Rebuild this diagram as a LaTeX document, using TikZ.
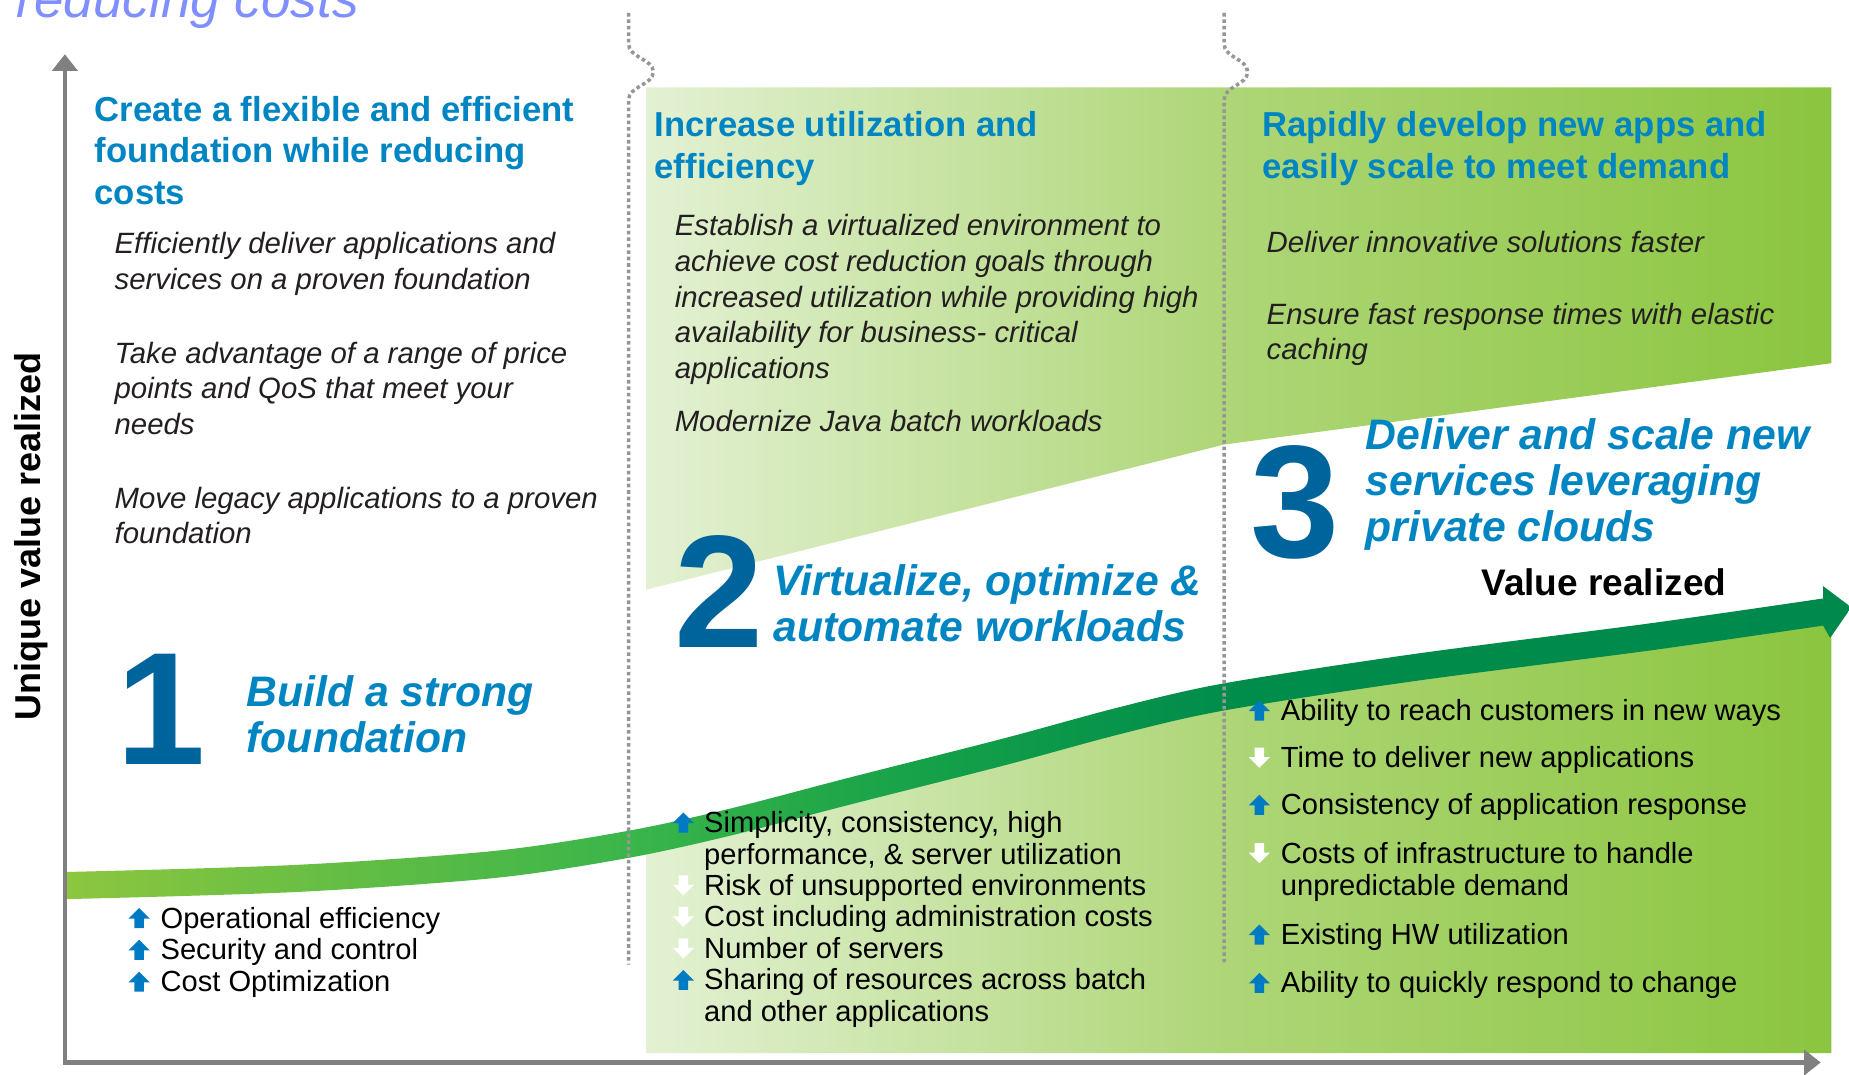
\documentclass[tikz,border=0pt]{standalone}
\usepackage{fontspec}
\setmainfont{Liberation Sans}
\usetikzlibrary{arrows.meta}
\definecolor{hblue}{RGB}{0,133,195}
\definecolor{nblue}{RGB}{0,100,156}
\definecolor{ablue}{RGB}{0,122,194}
\definecolor{ttl}{RGB}{128,143,255}
\definecolor{itx}{RGB}{35,31,32}
\definecolor{axgray}{RGB}{128,128,128}
\definecolor{dotgray}{RGB}{150,150,150}
\definecolor{gA}{RGB}{227,241,211}
\definecolor{gB}{RGB}{174,214,119}
\definecolor{gC}{RGB}{139,197,63}
\definecolor{aA}{RGB}{141,198,63}
\definecolor{aB}{RGB}{58,181,74}
\definecolor{aC}{RGB}{20,160,73}
\definecolor{aD}{RGB}{0,140,75}
\definecolor{aE}{RGB}{0,137,76}
\pgfdeclarehorizontalshading{bgshade}{100bp}{color(0bp)=(gA); color(25bp)=(gA); color(49.4bp)=(gB); color(75bp)=(gC); color(100bp)=(gC)}
\pgfdeclarehorizontalshading{arrshade}{100bp}{color(0bp)=(aA); color(25bp)=(aA); color(40.8bp)=(aB); color(49.5bp)=(aC); color(57.5bp)=(aD); color(75bp)=(aE); color(100bp)=(aE)}
\newcommand\ml[1]{\begin{tabular}[t]{@{}l@{}}#1\end{tabular}}
\tikzset{
  head/.style={font=\fontsize{29.4}{35}\selectfont\bfseries, text=hblue, anchor=base west, inner sep=0pt},
  itxt/.style={font=\fontsize{24.9}{30.2}\selectfont\itshape, text=itx, anchor=base west, inner sep=0pt},
  bignum/.style={font=\fontsize{136}{136}\selectfont\bfseries, text=nblue, anchor=base west, inner sep=0pt},
  subt/.style={font=\fontsize{36.2}{39}\selectfont\bfseries\itshape, text=hblue, anchor=base west, inner sep=0pt},
  btxt/.style={font=\fontsize{24.7}{26.7}\selectfont, text=black, anchor=base west, inner sep=0pt},
  btxtb/.style={font=\fontsize{24.7}{27}\selectfont, text=black, anchor=base west, inner sep=0pt},
  dotsep/.style={draw=dotgray, line width=3pt, dash pattern=on 3pt off 2.5pt},
  axisline/.style={draw=axgray, line width=3.5pt, line join=miter},
  upa/.pic={\fill[ablue] (-4,0) -- (-4,-8) -- (-9,-8) -- (0,-17) -- (9,-8) -- (4,-8) -- (4,0) -- cycle;},
  dna/.pic={\fill[white] (-4,-17) -- (-4,-9) -- (-9,-9) -- (0,0) -- (9,-9) -- (4,-9) -- (4,-17) -- cycle;}
}
\begin{document}
\begin{tikzpicture}[x=1pt,y=-1pt]
\useasboundingbox (0,0) rectangle (1568,911);
\fill[white] (0,0) rectangle (1568,911);

% green background regions
\shade[shading=bgshade]
  (548,74) -- (1553,74) -- (1553,308) -- (1038,377) -- (548,500) -- cycle
  (548,713) -- (620,697) -- (720,671) -- (850,638) -- (950,611) -- (1038,591) -- (1200,566) -- (1400,540) -- (1553,518) -- (1553,893) -- (548,893) -- cycle;

% value arrow
\shade[shading=arrshade]
  plot[smooth] coordinates {(55,739.5) (250,733.5) (420,721.5) (533,704.5) (620,685.5) (720,659.5) (850,626.5) (950,599.5) (1038,579.5) (1200,554.5) (1400,528.5) (1546,507.5)}
  -- (1546,497) -- (1570,515) -- (1552,541)
  -- plot[smooth] coordinates {(1546,530.5) (1400,551.5) (1200,577.5) (1038,602.5) (950,622.5) (850,649.5) (720,682.5) (620,708.5) (533,727.5) (420,744.5) (250,756.5) (55,762.5)}
  -- cycle;

% separators
\draw[dotsep] (533,11) -- (533,37) .. controls (533,49) and (554,50) .. (554,61) .. controls (554,72) and (533,73) .. (533,85) -- (533,818);
\draw[dotsep] (1038,11) -- (1038,37) .. controls (1038,49) and (1058,50) .. (1058,61) .. controls (1058,72) and (1038,73) .. (1038,85) -- (1038,818);

% axes
\draw[axisline, {Triangle[width=21pt,length=14pt]}-{Triangle[width=21pt,length=14pt]}] (55,46) -- (55,901) -- (1544,901);

% title and axis labels
\node[font=\fontsize{45}{54}\selectfont\itshape, text=ttl, anchor=base west, inner sep=0pt] (title) at (14,15) {reducing costs};
\node[font=\fontsize{30.5}{36}\selectfont\bfseries, rotate=90, anchor=base, inner sep=0pt] (ylabel) at (34,455) {Unique value realized};
\node[font=\fontsize{31.4}{36}\selectfont\bfseries, anchor=base west, inner sep=0pt] (xlabel) at (1256,505) {Value realized};

% headings
\node[head] (h1) at (80,103) {\ml{Create a flexible and efficient\\foundation while reducing\\costs}};
\node[head] (h2) at (555,116) {\ml{Increase utilization and\\efficiency}};
\node[head] (h3) at (1070,116) {\ml{Rapidly develop new apps and\\easily scale to meet demand}};

% italic descriptions
\node[itxt] (d1a) at (97,215) {\ml{Efficiently deliver applications and\\services on a proven foundation}};
\node[itxt] (d1b) at (97,308) {\ml{Take advantage of a range of price\\points and QoS that meet your\\needs}};
\node[itxt] (d1c) at (97,431) {\ml{Move legacy applications to a proven\\foundation}};
\node[itxt] (d2a) at (572,200) {\ml{Establish a virtualized environment to\\achieve cost reduction goals through\\increased utilization while providing high\\availability for business- critical\\applications}};
\node[itxt] (d2b) at (572,366) {Modernize Java batch workloads};
\node[itxt] (d3a) at (1074,214) {Deliver innovative solutions faster};
\node[itxt] (d3b) at (1074,275) {\ml{Ensure fast response times with elastic\\caching}};

% big numbers
\node[bignum] (n1) at (99,648) {1};
\node[bignum] (n2) at (572,549) {2};
\node[bignum] (n3) at (1060,473) {3};

% stage titles
\node[subt] (s1) at (209,599) {\ml{Build a strong\\foundation}};
\node[subt] (s2) at (656,505) {\ml{Virtualize, optimize \&\\automate workloads}};
\node[subt] (s3) at (1158,381) {\ml{Deliver and scale new\\services leveraging\\private clouds}};

% bullet lists
\node[btxtb] (b1) at (136,787) {\ml{Operational efficiency\\Security and control\\Cost Optimization}};
\pic at (118,787) {upa};
\pic at (118,814) {upa};
\pic at (118,841) {upa};

\node[btxt] (b2) at (597,706) {\ml{Simplicity, consistency, high\\performance, \& server utilization\\Risk of unsupported environments\\Cost including administration costs\\Number of servers\\Sharing of resources across batch\\and other applications}};
\pic at (579.5,706) {upa};
\pic at (579.5,759.4) {dna};
\pic at (579.5,786.1) {dna};
\pic at (579.5,812.8) {dna};
\pic at (579.5,839.5) {upa};

\node[btxtb] (c1) at (1086,611) {Ability to reach customers in new ways};
\node[btxtb] (c2) at (1086,651) {Time to deliver new applications};
\node[btxtb] (c3) at (1086,691) {Consistency of application response};
\node[btxtb] (c4) at (1086,732) {\ml{Costs of infrastructure to handle\\unpredictable demand}};
\node[btxtb] (c5) at (1086,801) {Existing HW utilization};
\node[btxtb] (c6) at (1086,842) {Ability to quickly respond to change};
\pic at (1068,611) {upa};
\pic at (1068,651) {dna};
\pic at (1068,691) {upa};
\pic at (1068,732) {dna};
\pic at (1068,801) {upa};
\pic at (1068,842) {upa};
\end{tikzpicture}
\end{document}
